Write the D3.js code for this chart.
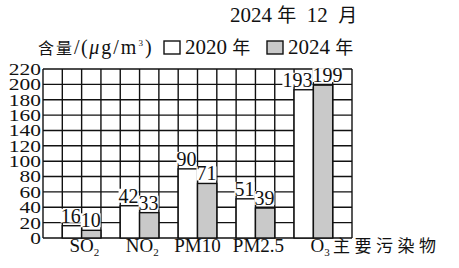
<!DOCTYPE html>
<html>
<head>
<meta charset="utf-8">
<script src="https://cdn.jsdelivr.net/npm/d3@7"></script>
<style>
  body { margin: 0; background: #fff; }
  text { font-family: "Liberation Serif", "Times New Roman", serif; fill: #111; white-space: pre; }
  .cjk { font-family: "Noto Sans CJK SC", sans-serif; }
</style>
</head>
<body>
<div id="chart"></div>
<script>
// data
const pollutants = ["SO2", "NO2", "PM10", "PM2.5", "O3"];
const labelMain = ["SO", "NO", "PM10", "PM2.5", "O"];
const labelSub = ["2", "2", "", "", "3"];
const values2020 = [16, 42, 90, 51, 193];
const values2024 = [10, 33, 71, 39, 199];
const yTicks = [0, 20, 40, 60, 80, 100, 120, 140, 160, 180, 200, 220];

const width = 459, height = 268;
const plotLeft = 43, plotRight = 352, plotTop = 69, plotBottom = 238;
const nCols = 16;

const svg = d3.select("#chart")
    .append("svg")
        .attr("width", width)
        .attr("height", height);

const xCol = d3.scaleLinear().domain([0, nCols]).range([plotLeft, plotRight]);
const xGroup = d3.scaleBand().domain(pollutants).range([xCol(1), xCol(nCols)]);
const barW = xGroup.bandwidth() / 3;
const y = d3.scaleLinear().domain([0, 220]).range([plotBottom, plotTop]);

// grid
const grid = svg.append("g").attr("stroke", "#111").attr("stroke-width", 1.4);
grid.selectAll(".h")
    .data(yTicks)
    .enter()
    .append("line")
        .attr("x1", plotLeft).attr("x2", plotRight)
        .attr("y1", d => y(d)).attr("y2", d => y(d));
grid.selectAll(".v")
    .data(d3.range(nCols + 1))
    .enter()
    .append("line")
        .attr("x1", d => xCol(d)).attr("x2", d => xCol(d))
        .attr("y1", plotTop).attr("y2", plotBottom);

// y tick labels (no tick marks, wide serif digits)
svg.append("g")
    .selectAll("text")
    .data(yTicks)
    .enter()
    .append("text")
        .attr("transform", d => "translate(41," + y(d) + ") scale(1.3,1)")
        .attr("text-anchor", "end")
        .attr("dy", "0.36em")
        .style("font-size", "16.5px")
        .text(d => d);

// bars
const bars = [];
pollutants.forEach((p, i) => {
    bars.push({ p: p, k: 0, v: values2020[i] });
    bars.push({ p: p, k: 1, v: values2024[i] });
});

svg.append("g")
    .selectAll("rect")
    .data(bars)
    .enter()
    .append("rect")
        .attr("x", d => xGroup(d.p) + d.k * barW)
        .attr("y", d => y(d.v))
        .attr("width", barW)
        .attr("height", d => y(0) - y(d.v))
        .attr("fill", d => d.k === 0 ? "#ffffff" : "#c9c9c9")
        .attr("stroke", "#111")
        .attr("stroke-width", 1.4);

// value labels with white backing
const labelG = svg.append("g");
bars.forEach(d => {
    const g = labelG.append("g");
    const bg = g.append("rect").attr("fill", "#fff");
    const t = g.append("text")
        .attr("y", y(d.v) - 3)
        .style("font-size", "20px")
        .text(d.v);
    const w = t.node().getComputedTextLength();
    const bx = xGroup(d.p) + d.k * barW;
    if (w > barW) {
        if (d.k === 0) t.attr("x", bx + barW - 1).attr("text-anchor", "end");
        else t.attr("x", bx - 1).attr("text-anchor", "start");
    } else {
        t.attr("x", bx + barW / 2).attr("text-anchor", "middle");
    }
    const bb = t.node().getBBox();
    bg.attr("x", bb.x).attr("y", y(d.v) - 17).attr("width", bb.width).attr("height", 14);
});

// x labels
const xl = svg.append("g")
    .selectAll("text")
    .data(pollutants)
    .enter()
    .append("text")
        .attr("y", 252)
        .style("font-size", "19px");
xl.each(function(p, i) {
    const t = d3.select(this);
    t.append("tspan").text(labelMain[i]);
    if (labelSub[i]) t.append("tspan").attr("dy", 4).style("font-size", "11px").text(labelSub[i]);
    const mw = this.getSubStringLength(0, labelMain[i].length);
    t.attr("x", xGroup(p) + xGroup.bandwidth() / 3 - mw / 2 + (i === 3 ? 3 : 0) + (i === 4 ? 4 : 0));
});
svg.append("text")
    .attr("class", "cjk")
    .attr("x", 333)
    .attr("y", 252)
    .style("font-size", "17px")
    .style("letter-spacing", "4.5px")
    .text("主要污染物");

// title
const title = svg.append("text").attr("x", 230).attr("y", 22).style("font-size", "21px");
title.append("tspan").text("2024 ");
title.append("tspan").attr("class", "cjk").style("font-size", "19px").text("年");
title.append("tspan").text("  12  ");
title.append("tspan").attr("class", "cjk").style("font-size", "19px").text("月");

// y-axis unit + legend
const unit = svg.append("text").attr("x", 38).attr("y", 54).style("font-size", "20px");
unit.append("tspan").attr("class", "cjk").style("font-size", "16px").style("letter-spacing", "2px").text("含量");
unit.append("tspan").style("letter-spacing", "1.5px").text("/(");
unit.append("tspan").style("font-style", "italic").style("letter-spacing", "2px").text("μ");
unit.append("tspan").style("letter-spacing", "2px").text("g/m");
unit.append("tspan").attr("dy", -8).style("font-size", "9px").text("3");
unit.append("tspan").attr("dy", 8).attr("dx", 2).text(")");

const legendKeys = ["2020", "2024"];
const legendX = [164, 267];
legendKeys.forEach((k, i) => {
    svg.append("rect")
        .attr("x", legendX[i]).attr("y", 41)
        .attr("width", 16).attr("height", 13)
        .attr("fill", i === 0 ? "#fff" : "#c9c9c9")
        .attr("stroke", "#111")
        .attr("stroke-width", 1.4);
    const t = svg.append("text").attr("x", legendX[i] + 21).attr("y", 54).style("font-size", "21px");
    t.append("tspan").text(k + " ");
    t.append("tspan").attr("class", "cjk").style("font-size", "18px").text("年");
});
</script>
</body>
</html>
